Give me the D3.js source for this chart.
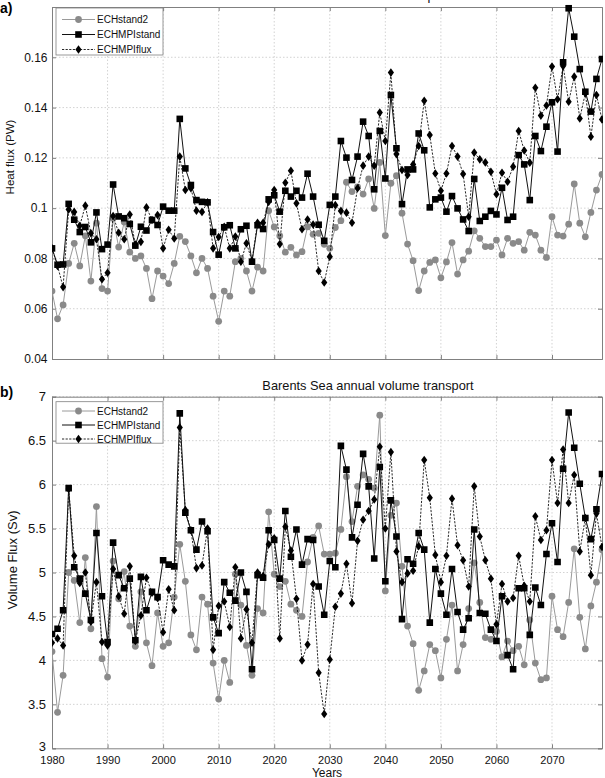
<!DOCTYPE html>
<html>
<head>
<meta charset="utf-8">
<script src="https://cdn.jsdelivr.net/npm/d3@7"></script>
<style>
  body { margin: 0; background: #fff; }
  text { font-family: "Liberation Sans", Arial, Helvetica, sans-serif; }
</style>
</head>
<body>
<svg width="605" height="778"></svg>
<script>
// ---- data ----
const years = d3.range(1980, 2080);

const heatECHstand2 = [
  0.067, 0.056, 0.0615, 0.078, 0.086, 0.077, 0.089, 0.071, 0.094, 0.068,
  0.067, 0.096, 0.0845, 0.0945, 0.0825, 0.080, 0.081, 0.076, 0.064, 0.075,
  0.073, 0.070, 0.078, 0.0888, 0.0867, 0.081, 0.0743, 0.080, 0.076, 0.065,
  0.055, 0.067, 0.065, 0.0787, 0.080, 0.075, 0.067, 0.0765, 0.075, 0.099,
  0.0925, 0.089, 0.0825, 0.0844, 0.0814, 0.0827, 0.0926, 0.0896, 0.090, 0.0856,
  0.084, 0.0923, 0.095, 0.1103, 0.1066, 0.1085, 0.1056, 0.1116, 0.0999, 0.1182,
  0.0891, 0.1099, 0.1129, 0.098, 0.0857, 0.0791, 0.0672, 0.075, 0.0784, 0.0794,
  0.0723, 0.0786, 0.0863, 0.0738, 0.0794, 0.0829, 0.091, 0.088, 0.0847, 0.0847,
  0.0873, 0.0814, 0.088, 0.086, 0.0867, 0.0833, 0.0904, 0.0893, 0.0833, 0.0804,
  0.0966, 0.0893, 0.0889, 0.0936, 0.1096, 0.094, 0.0886, 0.0983, 0.1072, 0.1134
];
const heatECHMPIstand = [
  0.084, 0.0775, 0.0776, 0.1017, 0.0954, 0.0905, 0.0925, 0.0864, 0.0983, 0.0837,
  0.0855, 0.1094, 0.0967, 0.096, 0.0937, 0.0851, 0.0926, 0.0911, 0.0953, 0.0933,
  0.1006, 0.099, 0.099, 0.1355, 0.1158, 0.1092, 0.1032, 0.1025, 0.1023, 0.0905,
  0.0815, 0.0924, 0.0932, 0.084, 0.0916, 0.093, 0.0787, 0.0932, 0.0917, 0.1035,
  0.1051, 0.0986, 0.1069, 0.1046, 0.1069, 0.1042, 0.1137, 0.1046, 0.0934, 0.087,
  0.1013, 0.1046, 0.1267, 0.1201, 0.1112, 0.1205, 0.1344, 0.1287, 0.1075, 0.1307,
  0.1118, 0.145, 0.1238, 0.1016, 0.1154, 0.1154, 0.1297, 0.123, 0.1003, 0.1035,
  0.1042, 0.0986, 0.1048, 0.0999, 0.0955, 0.0909, 0.1116, 0.0949, 0.0966, 0.0989,
  0.0975, 0.1081, 0.0953, 0.0966, 0.1211, 0.1174, 0.1032, 0.1287, 0.1227, 0.1324,
  0.1421, 0.1225, 0.158, 0.1795, 0.1682, 0.1553, 0.1463, 0.1384, 0.1514, 0.1593
];
const heatECHMPIflux = [
  0.084, 0.077, 0.0686, 0.0995, 0.0985, 0.093, 0.101, 0.090, 0.0876, 0.0717,
  0.0743, 0.0969, 0.0902, 0.0876, 0.0975, 0.0855, 0.0866, 0.1003, 0.0953, 0.0973,
  0.084, 0.0914, 0.0879, 0.1205, 0.1072, 0.1079, 0.099, 0.0985, 0.1023, 0.084,
  0.0885, 0.0926, 0.084, 0.0887, 0.0787, 0.086, 0.0791, 0.0942, 0.0942, 0.1025,
  0.1072, 0.0857, 0.1101, 0.1149, 0.1019, 0.0916, 0.0955, 0.0935, 0.075, 0.0704,
  0.0807, 0.1012, 0.0989, 0.0982, 0.0942, 0.1079, 0.1169, 0.1205, 0.1169, 0.138,
  0.1267, 0.1539, 0.1215, 0.1152, 0.1132, 0.1174, 0.1247, 0.1427, 0.1291, 0.1138,
  0.1069, 0.1138, 0.1247, 0.1205, 0.1136, 0.0966, 0.1221, 0.1194, 0.1182, 0.1145,
  0.1055, 0.1141, 0.1105, 0.1165, 0.1307, 0.1229, 0.1181, 0.1479, 0.1368, 0.1408,
  0.1563, 0.1433, 0.1565, 0.1423, 0.1523, 0.1357, 0.1457, 0.1284, 0.145, 0.1353
];

const volECHstand2 = [
  4.1, 3.41, 3.83, 5.0, 4.91, 4.43, 5.17, 4.36, 5.75, 4.02,
  3.81, 5.13, 4.70, 5.01, 4.39, 4.16, 4.78, 4.2, 3.94, 4.54,
  4.16, 4.2, 4.72, 5.32, 4.9, 4.29, 4.12, 4.72, 4.64, 3.97,
  3.56, 4.0, 3.75, 4.98, 4.63, 4.17, 3.83, 4.59, 4.54, 5.69,
  4.98, 4.84, 4.9, 4.64, 4.57, 4.5, 5.12, 5.4, 5.53, 5.21,
  5.21, 5.22, 5.49, 6.09, 5.58, 5.98, 6.11, 6.06, 5.96, 6.79,
  4.79, 5.65, 5.79, 5.07, 4.39, 4.19, 3.66, 3.88, 4.18, 4.11,
  3.8, 4.24, 4.63, 3.88, 4.18, 4.59, 5.11, 4.66, 4.26, 4.24,
  4.33, 4.04, 4.22, 4.11, 4.16, 3.95, 4.46, 3.97, 3.78, 3.8,
  4.73, 4.35, 4.27, 4.66, 5.27, 4.49, 4.13, 4.62, 4.89, 5.26
];
const volECHMPIstand = [
  4.3, 4.36, 4.57, 5.96, 5.06, 4.93, 4.76, 4.46, 5.45, 4.73,
  4.21, 5.34, 4.97, 4.82, 4.93, 4.23, 4.95, 4.57, 4.78, 4.72,
  5.14, 5.09, 5.07, 6.81, 5.68, 5.48, 5.26, 5.58, 5.47, 4.49,
  4.31, 4.89, 4.77, 4.68, 5.0, 4.78, 3.9, 4.97, 4.94, 5.48,
  5.37, 4.93, 5.7, 5.18, 5.49, 5.09, 5.38, 5.37, 4.84, 4.52,
  5.13, 5.06, 6.44, 6.17, 5.4, 5.77, 6.35, 5.98, 5.16, 6.2,
  4.9, 5.82, 5.41, 4.47, 5.15, 5.1, 5.45, 5.26, 4.43, 5.04,
  4.76, 4.52, 5.04, 4.55, 4.35, 4.48, 5.49, 4.54, 4.53, 4.35,
  4.22, 4.73, 4.06, 3.9, 4.82, 4.82, 4.29, 4.83, 4.63, 5.21,
  5.56, 5.12, 6.18, 6.82, 6.42, 6.01, 5.62, 5.38, 5.72, 6.12
];
const volECHMPIflux = [
  4.2, 4.25, 4.17, 5.95, 5.19, 4.88, 5.0, 4.44, 4.89, 4.21,
  4.17, 5.04, 4.73, 4.53, 5.07, 4.22, 4.51, 4.94, 4.77, 4.71,
  4.32, 4.81, 4.57, 6.65, 5.71, 5.48, 5.05, 5.08, 5.5, 4.12,
  4.62, 4.67, 4.38, 5.06, 4.25, 4.58, 4.2, 5.0, 4.96, 5.32,
  5.39, 4.25, 5.52, 5.25, 4.7, 4.0, 4.18, 4.87, 3.86, 3.39,
  4.01, 4.61, 4.76, 5.1, 4.65, 5.36, 5.6, 5.7, 5.83, 6.43,
  5.5, 6.37, 5.24, 4.89, 4.99, 5.02, 5.3, 6.28, 5.85, 5.2,
  4.89, 5.19, 5.84, 5.31, 5.14, 4.84, 5.98, 5.41, 5.14, 4.93,
  4.41, 4.87, 4.67, 4.71, 5.19, 4.85, 4.67, 5.64, 5.37, 5.48,
  6.28, 5.79, 6.4, 5.79, 6.11, 5.24, 5.62, 4.97, 5.67, 5.29
];

const seriesNames = ['ECHstand2', 'ECHMPIstand', 'ECHMPIflux'];
const xTicks = [1980, 1990, 2000, 2010, 2020, 2030, 2040, 2050, 2060, 2070];
const heatTicks = [0.04, 0.06, 0.08, 0.1, 0.12, 0.14, 0.16];
const heatTickLabels = ['0.04', '0.06', '0.08', '0.1', '0.12', '0.14', '0.16'];
const volTicks = [3, 3.5, 4, 4.5, 5, 5.5, 6, 6.5, 7];
const volTickLabels = ['3', '3.5', '4', '4.5', '5', '5.5', '6', '6.5', '7'];

// ---- layout ----
let svg = d3.select('svg');
let left = 52, right = 602;

let xScale = d3.scaleLinear().domain([1980, 2079]).range([left, right]);

let styles = [
  { line: '#9a9a9a', width: 1, dash: null, marker: 'circle', fill: '#8a8a8a' },
  { line: '#111', width: 1, dash: null, marker: 'square', fill: '#000' },
  { line: '#111', width: 0.9, dash: '2.2,1.4', marker: 'diamond', fill: '#000' }
];

function markerPath(type) {
  if (type === 'circle') return d3.symbol(d3.symbolCircle, 36)();
  if (type === 'square') return 'M-3.3,-3.3H3.3V3.3H-3.3Z';
  return 'M0,-4.3L3.1,0L0,4.3L-3.1,0Z';
}

function drawPanel(opts) {
  let top = opts.top, bottom = opts.bottom;
  let y = d3.scaleLinear().domain(opts.domain).range([bottom, top]);
  let g = svg.append('g');

  // grid
  g.selectAll('.vgrid').data(xTicks.slice(1)).enter().append('line')
    .attr('x1', d => xScale(d)).attr('x2', d => xScale(d))
    .attr('y1', top).attr('y2', bottom)
    .attr('stroke', '#c8c8c8').attr('stroke-width', 0.8)
    .attr('stroke-dasharray', '1.5,2');
  g.selectAll('.hgrid').data(opts.ticks.slice(1)).enter().append('line')
    .attr('x1', left).attr('x2', right)
    .attr('y1', d => y(d)).attr('y2', d => y(d))
    .attr('stroke', '#c8c8c8').attr('stroke-width', 0.8)
    .attr('stroke-dasharray', '1.5,2');

  // axes (ticks inside)
  let axB = d3.axisBottom(xScale).tickValues(xTicks).tickSize(-4)
    .tickFormat(opts.xLabels ? d3.format('d') : '');
  let axT = d3.axisTop(xScale).tickValues(xTicks).tickSize(-4).tickFormat('');
  let axL = d3.axisLeft(y).tickValues(opts.ticks).tickSize(-4)
    .tickFormat((d, i) => opts.labels[i]);
  let axR = d3.axisRight(y).tickValues(opts.ticks).tickSize(-4).tickFormat('');

  let axes = [
    g.append('g').attr('transform', 'translate(0,' + bottom + ')').call(axB),
    g.append('g').attr('transform', 'translate(0,' + top + ')').call(axT),
    g.append('g').attr('transform', 'translate(' + left + ',0)').call(axL),
    g.append('g').attr('transform', 'translate(' + right + ',0)').call(axR)
  ];
  axes.forEach(a => {
    a.select('.domain').attr('stroke', '#808080');
    a.selectAll('.tick line').attr('stroke', '#808080');
    a.selectAll('.tick text').attr('fill', '#111').attr('font-size', '11px')
      .attr('font-family', '"Liberation Sans", Arial, sans-serif');
  });
  axes[0].selectAll('.tick text').attr('dy', '1.17em');
  axes[2].selectAll('.tick text')
    .attr('font-size', opts.yTickSize + 'px')
    .attr('dx', (-opts.yTickGap) + 'px')
    .attr('dy', (d, i) => (i === 0 && opts.xLabels) ? '0.2em' : '0.32em');

  // clip
  let clipId = 'clip' + opts.id;
  svg.append('clipPath').attr('id', clipId).append('rect')
    .attr('x', left).attr('y', top - 4).attr('width', right - left + 1).attr('height', bottom - top + 4);

  let plot = g.append('g').attr('clip-path', 'url(#' + clipId + ')');

  opts.series.forEach((vals, si) => {
    let st = styles[si];
    let pts = years.map((yr, i) => [yr, vals[i]]);
    plot.append('path').datum(pts)
      .attr('fill', 'none')
      .attr('stroke', st.line)
      .attr('stroke-width', st.width)
      .attr('stroke-dasharray', st.dash)
      .attr('d', d3.line().x(d => xScale(d[0])).y(d => y(d[1])));
    plot.selectAll('.m' + si).data(pts).enter().append('path')
      .attr('transform', d => 'translate(' + xScale(d[0]) + ',' + y(d[1]) + ')')
      .attr('d', markerPath(st.marker))
      .attr('fill', st.fill);
  });

  // y label
  svg.append('text')
    .attr('transform', 'translate(' + opts.yLabelX + ',' + opts.yLabelY + ') rotate(-90)')
    .attr('text-anchor', 'middle')
    .attr('font-size', opts.yLabelSize + 'px')
    .attr('fill', '#111')
    .text(opts.yLabel);

  // legend
  let lg = svg.append('g').attr('transform', 'translate(56,' + opts.legendTop + ')');
  lg.append('rect').attr('width', 107).attr('height', opts.legendH)
    .attr('fill', '#fff').attr('stroke', '#808080').attr('stroke-width', 0.8);
  seriesNames.forEach((name, i) => {
    let st = styles[i];
    let yy = opts.legendRow0 + i * opts.legendStep;
    lg.append('line').attr('x1', 6).attr('x2', 39).attr('y1', yy).attr('y2', yy)
      .attr('stroke', st.line).attr('stroke-width', st.width)
      .attr('stroke-dasharray', st.dash);
    lg.append('path').attr('transform', 'translate(22.5,' + yy + ')')
      .attr('d', markerPath(st.marker)).attr('fill', st.fill);
    lg.append('text').attr('x', 41).attr('y', yy + 3.6)
      .attr('font-size', '10px').attr('fill', '#111').text(name);
  });
}

drawPanel({
  id: 'a', top: 7, bottom: 359, domain: [0.04, 0.18],
  ticks: heatTicks, labels: heatTickLabels, xLabels: false,
  yTickSize: 12, yTickGap: 1.5,
  series: [heatECHstand2, heatECHMPIstand, heatECHMPIflux],
  yLabel: 'Heat flux (PW)', yLabelX: 14, yLabelY: 157, yLabelSize: 11.5,
  legendTop: 8, legendH: 47, legendRow0: 11.5, legendStep: 15
});

drawPanel({
  id: 'b', top: 396.7, bottom: 748.3, domain: [3, 7],
  ticks: volTicks, labels: volTickLabels, xLabels: true,
  yTickSize: 13, yTickGap: 3,
  series: [volECHstand2, volECHMPIstand, volECHMPIflux],
  yLabel: 'Volume Flux (Sv)', yLabelX: 16.5, yLabelY: 560, yLabelSize: 13,
  legendTop: 401.7, legendH: 41.5, legendRow0: 9.3, legendStep: 14
});

// titles and panel labels (top title is cut off by the page edge, as in the source)
svg.append('text').attr('x', 352).attr('y', -0.5).attr('text-anchor', 'middle')
  .attr('font-size', '12.8px').attr('fill', '#111')
  .text('Barents Sea annual heat transport');
svg.append('text').attr('x', 368).attr('y', 389.5).attr('text-anchor', 'middle')
  .attr('font-size', '12.8px').attr('fill', '#111')
  .text('Barents Sea annual volume transport');
svg.append('text').attr('x', 0).attr('y', 13).attr('font-size', '14px')
  .attr('font-weight', 'bold').attr('fill', '#000').text('a)');
svg.append('text').attr('x', 0).attr('y', 397).attr('font-size', '14px')
  .attr('font-weight', 'bold').attr('fill', '#000').text('b)');
svg.append('text').attr('x', 327).attr('y', 776.5).attr('text-anchor', 'middle')
  .attr('font-size', '12px').attr('fill', '#111').text('Years');
</script>
</body>
</html>
